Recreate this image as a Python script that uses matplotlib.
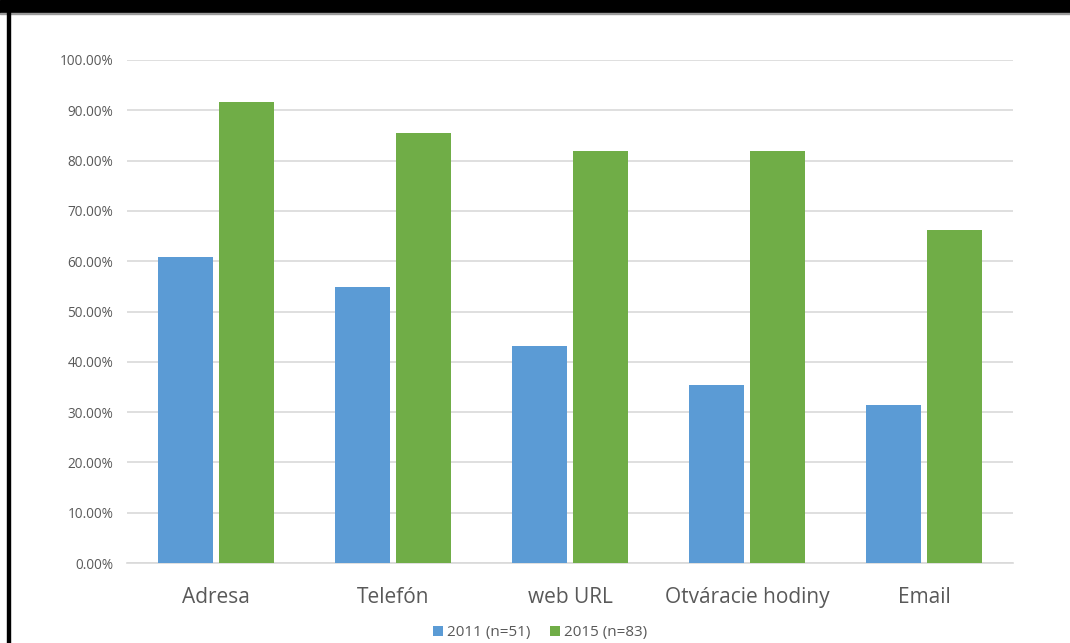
import numpy as np
import matplotlib.pyplot as plt
from matplotlib.patches import Rectangle
from matplotlib.ticker import FuncFormatter

plt.rcParams['font.family'] = ['Open Sans', 'DejaVu Sans']

# data
categories = ['Adresa', 'Telefón', 'web URL', 'Otváracie hodiny', 'Email']
share_2011 = [0.6078, 0.5490, 0.4314, 0.3529, 0.3137]
share_2015 = [0.9157, 0.8554, 0.8193, 0.8193, 0.6627]
series_names = ['2011 (n=51)', '2015 (n=83)']

fig = plt.figure(figsize=(10.70, 6.43), dpi=100)
ax = fig.add_axes([0.1187, 0.1244, 0.828, 0.7823])

x = np.arange(len(categories))
w = 0.31
gap = 0.035
b1 = ax.bar(x - (w + gap) / 2, share_2011, w, color='#5B9BD5', label=series_names[0], zorder=3)
b2 = ax.bar(x + (w + gap) / 2, share_2015, w, color='#70AD47', label=series_names[1], zorder=3)

ax.set_xlim(-0.5, len(categories) - 0.5)
ax.set_ylim(0, 1.0)
ax.set_yticks(np.arange(0, 1.01, 0.1))
ax.yaxis.set_major_formatter(FuncFormatter(lambda v, p: f'{v*100:.2f}%'))
ax.set_xticks(x)
ax.set_xticklabels(categories)

ax.grid(axis='y', color='#D9D9D9', linewidth=1.2, zorder=0)
for s in ['top', 'right', 'left']:
    ax.spines[s].set_visible(False)
ax.spines['bottom'].set_color('#D9D9D9')
ax.spines['bottom'].set_linewidth(1.2)
ax.tick_params(axis='both', length=0)
ax.tick_params(axis='y', labelsize=9.8, labelcolor='#595959', pad=10)
ax.tick_params(axis='x', labelsize=15, labelcolor='#595959', pad=17)

fig.legend(handles=[b1, b2], loc='center', bbox_to_anchor=(0.505, 0.016), ncol=2,
           frameon=False, fontsize=11, handlelength=0.6, handleheight=0.6,
           handletextpad=0.3, columnspacing=1.3, labelcolor='#595959')

# screenshot frame: black band on top, black line on the left
fig.patches.append(Rectangle((0, 1 - 13 / 643), 1, 13 / 643, transform=fig.transFigure,
                             color='black', zorder=10))
fig.patches.append(Rectangle((0, 1 - 14 / 643), 1, 1 / 643, transform=fig.transFigure,
                             color='#9a9a9a', zorder=10))
fig.patches.append(Rectangle((7 / 1070, 0), 3 / 1070, 1, transform=fig.transFigure,
                             color='black', zorder=10))

fig.savefig('out.png', dpi=100)
